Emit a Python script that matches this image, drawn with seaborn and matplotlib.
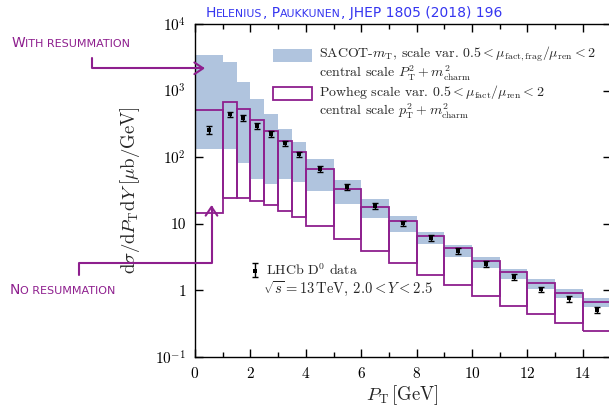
import matplotlib
matplotlib.use("Agg")
import matplotlib.pyplot as plt
import seaborn as sns
import pandas as pd
from matplotlib.patches import Patch, Rectangle, FancyArrowPatch
from matplotlib.path import Path
from matplotlib.offsetbox import TextArea, HPacker, AnchoredOffsetbox
from matplotlib.ticker import FixedLocator, FixedFormatter, NullLocator
from matplotlib.legend_handler import HandlerTuple, HandlerPatch

# ---------------- data ----------------
bin_lo = [0, 1, 1.5, 2, 2.5, 3, 3.5, 4, 5, 6, 7, 8, 9, 10, 11, 12, 13, 14]
bin_hi = [1, 1.5, 2, 2.5, 3, 3.5, 4, 5, 6, 7, 8, 9, 10, 11, 12, 13, 14, 15]

sacot_hi = [3420, 2650, 1360, 738, 439, 268, 170, 92, 45, 23.1, 13.1, 7.53,
            4.75, 3.10, 2.05, 1.45, 1.05, 0.75]
sacot_lo = [131, 131, 81, 46.7, 39.3, 46.7, 42, 30.8, 19.6, 12.1, 7.38, 4.92,
            3.17, 2.12, 1.45, 1.03, 0.75, 0.55]

powheg_hi = [509, 679, 522, 360, 249, 176, 120, 65.3, 33.4, 17.9, 11.0, 6.49,
             4.24, 2.76, 1.85, 1.26, 0.92, 0.66]
powheg_lo = [14.2, 23.9, 23.9, 21.8, 19.0, 15.6, 12.7, 9.17, 5.85, 3.86, 2.52,
             1.68, 1.18, 0.81, 0.58, 0.435, 0.322, 0.242]

lhcb_pt = [0.5, 1.25, 1.75, 2.25, 2.75, 3.25, 3.75, 4.5, 5.5, 6.5, 7.5, 8.5,
           9.5, 10.5, 11.5, 12.5, 13.5, 14.5]
lhcb_val = [255, 439, 390, 293, 222, 161, 110, 66, 35.7, 18.3, 10.1, 6.11,
            3.90, 2.46, 1.58, 1.03, 0.75, 0.50]
lhcb_err = [35, 45, 40, 30, 22, 16, 11, 6.6, 3.6, 1.8, 1.0, 0.6, 0.4, 0.25,
            0.16, 0.1, 0.08, 0.05]

x_major = [0, 2, 4, 6, 8, 10, 12, 14]
x_minor = [1, 3, 5, 7, 9, 11, 13, 15]
y_ticks = [0.1, 1, 10, 100, 1000, 10000]
y_tick_labels = [r"$10^{-1}$", "1", "10", r"$10^{2}$", r"$10^{3}$", r"$10^{4}$"]

label_sacot = ("SACOT-$m_\\mathrm{T}$, scale var. $0.5 < \\mu_\\mathrm{fact,frag}/\\mu_\\mathrm{ren} < 2$\n"
               "central scale $P_\\mathrm{T}^2 + m_\\mathrm{charm}^2$")
label_powheg = ("Powheg scale var. $0.5 < \\mu_\\mathrm{fact}/\\mu_\\mathrm{ren} < 2$\n"
                "central scale $p_\\mathrm{T}^2 + m_\\mathrm{charm}^2$")
label_data = "LHCb D$^0$ data"
label_info = r"$\sqrt{s} = 13\,\mathrm{TeV}$, $2.0 < Y < 2.5$"

BLUE = "#b0c4de"
PURPLE = "#8e1f8e"
TITLE_BLUE = "#3535f0"

# ---------------- style ----------------
sns.set_theme(style="ticks")
plt.rcParams.update({
    "font.family": ["cmr10"],
    "mathtext.fontset": "cm",
    "axes.unicode_minus": False,
    "axes.formatter.use_mathtext": True,
    "xtick.direction": "in", "ytick.direction": "in",
    "xtick.top": True, "ytick.right": True,
    "axes.edgecolor": "black", "axes.linewidth": 1.0,
    "xtick.color": "black", "ytick.color": "black",
})

W, H = 609, 408
fig = plt.figure(figsize=(W / 100, H / 100), dpi=100)
ax = fig.add_axes([195 / W, 51.3 / H, 415.6 / W, 332.7 / H])

df = pd.DataFrame({"lo": bin_lo, "hi": bin_hi, "s_lo": sacot_lo, "s_hi": sacot_hi,
                   "p_lo": powheg_lo, "p_hi": powheg_hi})
df["w"] = df["hi"] - df["lo"]

ax.bar(df["lo"], df["s_hi"] - df["s_lo"], width=df["w"], bottom=df["s_lo"],
       align="edge", color=BLUE, linewidth=0, zorder=1)
ax.bar(df["lo"], df["p_hi"] - df["p_lo"], width=df["w"], bottom=df["p_lo"],
       align="edge", fill=False, edgecolor=PURPLE, linewidth=1.3, zorder=2)

err = ax.errorbar(lhcb_pt, lhcb_val, yerr=lhcb_err, fmt="none", ecolor="black",
                  elinewidth=1.0, capsize=2.0, capthick=1.0, zorder=4)
sns.scatterplot(x=lhcb_pt, y=lhcb_val, marker="s", s=8, color="black",
                linewidth=0, ax=ax, zorder=5, legend=False)
sc = ax.collections[-1]

ax.set_yscale("log")
ax.set_xlim(0, 15)
ax.set_ylim(0.1, 1e4)
ax.yaxis.set_major_locator(FixedLocator(y_ticks))
ax.yaxis.set_major_formatter(FixedFormatter(y_tick_labels))
ax.yaxis.set_minor_locator(NullLocator())
ax.xaxis.set_major_locator(FixedLocator(x_major))
ax.xaxis.set_minor_locator(FixedLocator(x_minor))
ax.tick_params(axis="both", which="major", length=6, width=1.0, labelsize=11, pad=6.5)
ax.tick_params(axis="x", which="minor", length=3.5, width=1.0, top=True)
for s in ax.spines.values():
    s.set_linewidth(1.0)
    s.set_color("black")

ax.set_xlabel(r"$P_\mathrm{T}\,[\mathrm{GeV}]$", fontsize=13.5, labelpad=2)
ax.set_ylabel(r"$\mathrm{d}\sigma/\mathrm{d}P_\mathrm{T}\mathrm{d}Y\;[\mu\mathrm{b}/\mathrm{GeV}]$",
              fontsize=13.5)
ax.yaxis.set_label_coords((142 - 195) / 415.6, 0.5)


# legends: patches raised so they sit beside the first text line
def raised_patch(legend, orig_handle, xdescent, ydescent, width, height, fontsize):
    return Rectangle((-xdescent, -ydescent + 5.8), width, height)


h_sacot = Patch(facecolor=BLUE, edgecolor="none")
h_powheg = Patch(facecolor="white", edgecolor=PURPLE, linewidth=1.3)
leg1 = ax.legend([h_sacot, h_powheg], [label_sacot, label_powheg],
                 handler_map={Patch: HandlerPatch(patch_func=raised_patch)},
                 loc="upper left", bbox_to_anchor=(0.187, 0.939), frameon=False,
                 fontsize=10, handlelength=2.8, handleheight=1.1,
                 handletextpad=0.55, labelspacing=0.05, borderpad=0, borderaxespad=0)
for t in leg1.get_texts():
    t.set_linespacing(1.0)
ax.add_artist(leg1)

leg2 = ax.legend([(err, sc)], [label_data], handler_map={tuple: HandlerTuple(ndivide=1)},
                 loc="center left", bbox_to_anchor=(0.135, 0.2606), frameon=False,
                 fontsize=10, handlelength=0.6, handletextpad=0.45,
                 borderpad=0, borderaxespad=0)
ax.text(0.164, 0.2056, label_info, transform=ax.transAxes, fontsize=10.5,
        va="center", ha="left")


# small-caps style texts
def smallcaps(runs, x_px, y_px, color, big, small, family="DejaVu Sans"):
    kids = [TextArea(t, textprops=dict(color=color, size=(big if b else small),
                                      family=family)) for t, b in runs]
    box = HPacker(children=kids, align="baseline", pad=0, sep=0)
    anc = AnchoredOffsetbox(loc="center left", child=box, pad=0, borderpad=0,
                            frameon=False, bbox_to_anchor=(x_px / W, 1 - y_px / H),
                            bbox_transform=fig.transFigure)
    fig.add_artist(anc)


smallcaps([("H", True), ("ELENIUS", False), (", P", True), ("AUKKUNEN", False),
           (", JHEP 1805 (2018) 196", True)], 206, 12.7, TITLE_BLUE, 10, 7.8)
smallcaps([("W", True), ("ITH RESUMMATION", False)], 11.7, 43.3, PURPLE, 10, 8)
smallcaps([("N", True), ("O RESUMMATION", False)], 10, 290, PURPLE, 10, 8)


def fig_path(points):
    return Path([(x / W, 1 - y / H) for x, y in points])


for pts in ([(92.4, 58.3), (92.4, 68.3), (205, 68.3)],
            [(79, 275), (79, 262.7), (211.5, 262.7), (211.5, 205)]):
    arr = FancyArrowPatch(path=fig_path(pts), arrowstyle="->,head_length=0.45,head_width=0.3",
                          mutation_scale=14, color=PURPLE, lw=1.5,
                          transform=fig.transFigure, zorder=10)
    fig.add_artist(arr)

fig.savefig("out.png", dpi=100)
